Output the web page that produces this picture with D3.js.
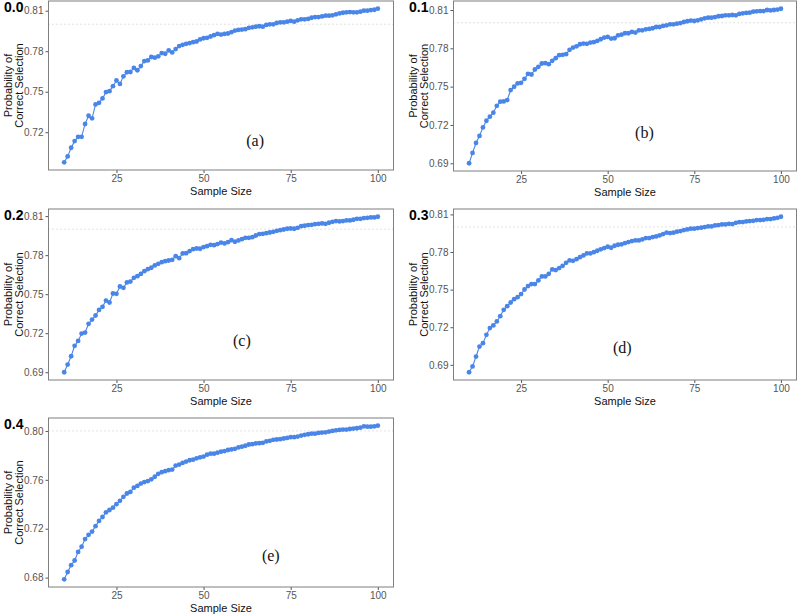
<!DOCTYPE html>
<html>
<head>
<meta charset="utf-8">
<script src="https://cdn.jsdelivr.net/npm/d3@7"></script>
<style>
  body { margin: 0; background: #fff; }
  svg { display: block; font-family: "Liberation Sans", Arial, sans-serif; }
</style>
</head>
<body>
<div id="chart"></div>
<script>
// sample sizes on the x axis (n = 10 ... 100)
var sampleSize = d3.range(10, 101);

// probability of correct selection, one array per panel
var probA = [
  0.6977, 0.7021, 0.7085, 0.7134, 0.7166, 0.7166, 0.7261, 0.7322, 0.7303, 0.7406,
  0.7418, 0.7450, 0.7497, 0.7504, 0.7541, 0.7583, 0.7558, 0.7614, 0.7644, 0.7646,
  0.7676, 0.7659, 0.7690, 0.7727, 0.7732, 0.7757, 0.7752, 0.7762, 0.7786, 0.7781,
  0.7806, 0.7791, 0.7816, 0.7838, 0.7847, 0.7855, 0.7860, 0.7867, 0.7872, 0.7887,
  0.7896, 0.7899, 0.7909, 0.7919, 0.7928, 0.7923, 0.7928, 0.7931, 0.7941, 0.7953,
  0.7958, 0.7960, 0.7963, 0.7973, 0.7977, 0.7982, 0.7985, 0.7982, 0.7995, 0.7999,
  0.7999, 0.8009, 0.8014, 0.8014, 0.8019, 0.8024, 0.8019, 0.8029, 0.8036, 0.8036,
  0.8039, 0.8048, 0.8053, 0.8053, 0.8058, 0.8063, 0.8063, 0.8066, 0.8073, 0.8080,
  0.8085, 0.8088, 0.8090, 0.8088, 0.8088, 0.8093, 0.8100, 0.8100, 0.8105, 0.8107, 0.8115
];
var probB = [
  0.6900, 0.6981, 0.7059, 0.7114, 0.7181, 0.7233, 0.7265, 0.7296, 0.7350, 0.7382,
  0.7384, 0.7395, 0.7473, 0.7499, 0.7525, 0.7530, 0.7561, 0.7600, 0.7595, 0.7634,
  0.7655, 0.7681, 0.7684, 0.7676, 0.7702, 0.7723, 0.7746, 0.7749, 0.7754, 0.7788,
  0.7806, 0.7816, 0.7832, 0.7837, 0.7835, 0.7845, 0.7848, 0.7858, 0.7871, 0.7884,
  0.7889, 0.7876, 0.7879, 0.7902, 0.7907, 0.7918, 0.7918, 0.7928, 0.7923, 0.7941,
  0.7941, 0.7949, 0.7952, 0.7957, 0.7967, 0.7967, 0.7975, 0.7980, 0.7988, 0.7988,
  0.7993, 0.7998, 0.8006, 0.8012, 0.8017, 0.8014, 0.8019, 0.8027, 0.8035, 0.8040,
  0.8040, 0.8045, 0.8051, 0.8053, 0.8058, 0.8058, 0.8061, 0.8058, 0.8069, 0.8074,
  0.8077, 0.8079, 0.8087, 0.8090, 0.8092, 0.8092, 0.8100, 0.8097, 0.8100, 0.8103, 0.8110
];
var probC = [
  0.6900, 0.6959, 0.7023, 0.7103, 0.7141, 0.7197, 0.7205, 0.7272, 0.7305, 0.7336,
  0.7379, 0.7403, 0.7451, 0.7436, 0.7505, 0.7503, 0.7559, 0.7549, 0.7590, 0.7597,
  0.7626, 0.7638, 0.7656, 0.7677, 0.7692, 0.7703, 0.7721, 0.7733, 0.7746, 0.7754,
  0.7759, 0.7764, 0.7792, 0.7777, 0.7813, 0.7815, 0.7831, 0.7846, 0.7851, 0.7849,
  0.7862, 0.7869, 0.7879, 0.7877, 0.7885, 0.7897, 0.7890, 0.7900, 0.7915, 0.7903,
  0.7913, 0.7923, 0.7933, 0.7933, 0.7938, 0.7951, 0.7962, 0.7964, 0.7969, 0.7974,
  0.7979, 0.7987, 0.7992, 0.7997, 0.8003, 0.8005, 0.8003, 0.8010, 0.8023, 0.8026,
  0.8031, 0.8033, 0.8038, 0.8041, 0.8044, 0.8041, 0.8049, 0.8056, 0.8062, 0.8059,
  0.8062, 0.8067, 0.8067, 0.8072, 0.8079, 0.8079, 0.8085, 0.8087, 0.8090, 0.8090, 0.8095
];
var probD = [
  0.6841, 0.6887, 0.6966, 0.7046, 0.7073, 0.7139, 0.7193, 0.7214, 0.7246, 0.7288,
  0.7339, 0.7368, 0.7397, 0.7424, 0.7440, 0.7464, 0.7501, 0.7528, 0.7544, 0.7544,
  0.7573, 0.7605, 0.7605, 0.7626, 0.7661, 0.7656, 0.7672, 0.7690, 0.7714, 0.7733,
  0.7730, 0.7743, 0.7759, 0.7773, 0.7789, 0.7789, 0.7799, 0.7810, 0.7821, 0.7831,
  0.7842, 0.7834, 0.7850, 0.7858, 0.7861, 0.7871, 0.7879, 0.7887, 0.7892, 0.7892,
  0.7900, 0.7911, 0.7911, 0.7919, 0.7924, 0.7932, 0.7943, 0.7954, 0.7951, 0.7954,
  0.7962, 0.7967, 0.7975, 0.7980, 0.7986, 0.7986, 0.7991, 0.7994, 0.7999, 0.8004,
  0.8004, 0.8012, 0.8015, 0.8020, 0.8020, 0.8025, 0.8023, 0.8033, 0.8039, 0.8039,
  0.8044, 0.8047, 0.8049, 0.8055, 0.8055, 0.8057, 0.8063, 0.8063, 0.8068, 0.8073, 0.8081
];
var probE = [
  0.6786, 0.6846, 0.6902, 0.6940, 0.7010, 0.7053, 0.7115, 0.7150, 0.7177, 0.7221,
  0.7264, 0.7296, 0.7334, 0.7353, 0.7372, 0.7401, 0.7428, 0.7461, 0.7488, 0.7501,
  0.7536, 0.7550, 0.7569, 0.7582, 0.7590, 0.7604, 0.7625, 0.7649, 0.7663, 0.7671,
  0.7679, 0.7684, 0.7717, 0.7725, 0.7738, 0.7749, 0.7760, 0.7765, 0.7776, 0.7784,
  0.7790, 0.7806, 0.7814, 0.7814, 0.7822, 0.7830, 0.7835, 0.7844, 0.7849, 0.7854,
  0.7865, 0.7871, 0.7879, 0.7889, 0.7892, 0.7898, 0.7900, 0.7903, 0.7914, 0.7919,
  0.7927, 0.7930, 0.7933, 0.7938, 0.7943, 0.7949, 0.7949, 0.7954, 0.7962, 0.7968,
  0.7973, 0.7978, 0.7978, 0.7984, 0.7987, 0.7989, 0.7995, 0.8000, 0.8005, 0.8008,
  0.8011, 0.8011, 0.8016, 0.8019, 0.8022, 0.8027, 0.8038, 0.8035, 0.8035, 0.8038, 0.8043
];

// panel tags, letters and tick labels
var panelTags = ["0.0", "0.1", "0.2", "0.3", "0.4"];
var panelLetters = ["(a)", "(b)", "(c)", "(d)", "(e)"];
var letterX = [64.8, 60.6, 61, 54.2, 69.3];
var letterY = [0.7139, 0.7142, 0.7144, 0.7041, 0.6983];
var xTicks = [25, 50, 75, 100];
var yTicksAD = [0.69, 0.72, 0.75, 0.78, 0.81];
var yTicksE = [0.68, 0.72, 0.76, 0.80];
var refLine = 0.80;

var series = [probA, probB, probC, probD, probE];

// plot area of each panel (pixels)
var boxes = [
  { x: 48.5, y: 1, w: 345, h: 169 },
  { x: 453.5, y: 1, w: 343, h: 170 },
  { x: 48.5, y: 209, w: 345, h: 171 },
  { x: 453.5, y: 209, w: 343, h: 171 },
  { x: 48.5, y: 418, w: 345, h: 169 }
];

var svgWidth = 798;
var svgHeight = 615;
var pointColor = "#4a86e8";

var svg = d3
  .select("#chart")
  .append("svg")
  .attr("width", svgWidth)
  .attr("height", svgHeight);

series.forEach(function(values, i) {
  var box = boxes[i];
  var data = sampleSize.map(function(n, j) { return { n: n, p: values[j] }; });

  // ggplot style 5% padding on both axes
  var xExt = d3.extent(sampleSize);
  var xPad = (xExt[1] - xExt[0]) * 0.05;
  var yExt = d3.extent(values);
  var yPad = (yExt[1] - yExt[0]) * 0.05;

  var x = d3.scaleLinear()
    .domain([xExt[0] - xPad, xExt[1] + xPad])
    .range([0, box.w]);
  var y = d3.scaleLinear()
    .domain([yExt[0] - yPad, yExt[1] + yPad])
    .range([box.h, 0]);

  var yTicks = (i === 4 ? yTicksE : yTicksAD).filter(function(t) {
    return t >= y.domain()[0] && t <= y.domain()[1];
  });

  var g = svg.append("g")
    .attr("transform", `translate(${box.x}, ${box.y})`);

  // dotted reference line
  g.append("line")
    .attr("x1", 0)
    .attr("x2", box.w)
    .attr("y1", y(refLine))
    .attr("y2", y(refLine))
    .attr("stroke", "#c4c4c4")
    .attr("stroke-width", 1)
    .attr("stroke-dasharray", "1,3");

  // axes
  var xAxis = g.append("g")
    .attr("transform", `translate(0, ${box.h})`)
    .call(d3.axisBottom(x).tickValues(xTicks).tickSize(3).tickPadding(2));
  var yAxis = g.append("g")
    .call(d3.axisLeft(y).tickValues(yTicks).tickFormat(d3.format(".2f")).tickSize(3).tickPadding(2));

  [xAxis, yAxis].forEach(function(ax) {
    ax.select(".domain").remove();
    ax.selectAll(".tick line").attr("stroke", "#555");
    ax.selectAll(".tick text")
      .attr("fill", "#555")
      .style("font-size", "10px")
      .style("font-family", "Liberation Sans, Arial, sans-serif");
  });

  // line + points
  var line = d3.line()
    .x(d => x(d.n))
    .y(d => y(d.p));

  g.append("path")
    .datum(data)
    .attr("d", line)
    .attr("fill", "none")
    .attr("stroke", pointColor)
    .attr("stroke-width", 1.1);

  g.selectAll("circle")
    .data(data)
    .enter()
    .append("circle")
    .attr("cx", d => x(d.n))
    .attr("cy", d => y(d.p))
    .attr("r", 2.4)
    .attr("fill", pointColor);

  // panel border
  g.append("rect")
    .attr("x", 0)
    .attr("y", 0)
    .attr("width", box.w)
    .attr("height", box.h)
    .attr("fill", "none")
    .attr("stroke", "#7f7f7f")
    .attr("stroke-width", 1);

  // letter annotation
  g.append("text")
    .attr("x", x(letterX[i]))
    .attr("y", y(letterY[i]))
    .attr("dy", "0.35em")
    .attr("text-anchor", "middle")
    .style("font-family", "Liberation Serif, Times New Roman, serif")
    .style("font-size", "16px")
    .attr("fill", "#111")
    .text(panelLetters[i]);

  // x axis title
  g.append("text")
    .attr("x", box.w / 2)
    .attr("y", box.h + 25)
    .attr("text-anchor", "middle")
    .style("font-size", "11px")
    .attr("fill", "#111")
    .text("Sample Size");

  // y axis title, two lines
  var yTitle = g.append("text")
    .attr("transform", `translate(-37, ${box.h / 2}) rotate(-90)`)
    .attr("text-anchor", "middle")
    .style("font-size", "11px")
    .attr("fill", "#111");
  yTitle.append("tspan").attr("x", 0).attr("y", 0).text("Probability of");
  yTitle.append("tspan").attr("x", 0).attr("y", 11).text("Correct Selection");

  // panel tag
  g.append("text")
    .attr("x", -44.5)
    .attr("y", 10.5)
    .style("font-size", "14px")
    .style("font-weight", "bold")
    .attr("fill", "#000")
    .text(panelTags[i]);
});
</script>
</body>
</html>
